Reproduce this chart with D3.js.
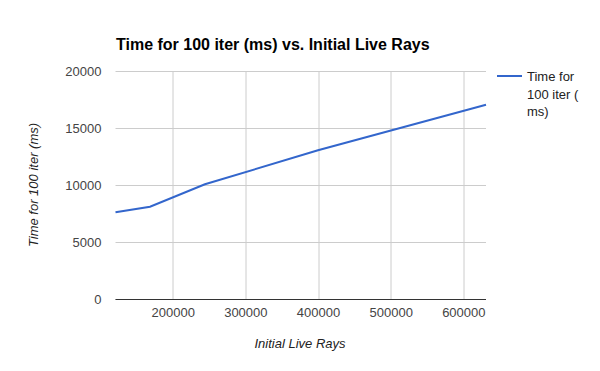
<!DOCTYPE html>
<html>
<head>
<meta charset="utf-8">
<script src="https://cdn.jsdelivr.net/npm/d3@7"></script>
<style>
  body { margin: 0; background: #fff; }
  text { font-family: "Liberation Sans", Arial, sans-serif; }
</style>
</head>
<body>
<div class="graph"></div>
<script>
// data
let rays = [121300, 168800, 244400, 400000, 631200]
let times = [7600, 8100, 10060, 13050, 17040]
let xTicks = [200000, 300000, 400000, 500000, 600000]
let yTicks = [0, 5000, 10000, 15000, 20000]
let seriesName = ['Time for', '100 iter (', 'ms)']

let svgWidth = 600
let svgHeight = 371
let fontFam = '"Liberation Sans", Arial, sans-serif'

let margin = {
    left: 115.5,
    right: 114,
    top: 71,
    bottom: 72
}

let height = svgHeight - margin.top - margin.bottom
let width = svgWidth - margin.left - margin.right

let svg = d3.select('.graph')
    .append('svg')
    .attr('width', svgWidth)
    .attr('height', svgHeight)

let g = svg.append('g')
    .attr('transform', 'translate(' + margin.left + ',' + margin.top + ')')

let points = rays.map((r, i) => ({ rays: r, time: times[i] }))

let xScale = d3.scaleLinear()
    .domain(d3.extent(rays))
    .range([0, width])
let yScale = d3.scaleLinear()
    .domain([0, 20000])
    .range([height, 0])

// gridlines
g.selectAll('.hgrid')
    .data(yTicks)
    .enter().append('line')
    .attr('x1', 0).attr('x2', width)
    .attr('y1', d => Math.round(yScale(d)) + 0.5)
    .attr('y2', d => Math.round(yScale(d)) + 0.5)
    .attr('stroke', '#cccccc')

g.selectAll('.vgrid')
    .data(xTicks)
    .enter().append('line')
    .attr('y1', 0).attr('y2', height)
    .attr('x1', d => Math.round(xScale(d)) + 0.5)
    .attr('x2', d => Math.round(xScale(d)) + 0.5)
    .attr('stroke', '#cccccc')

// baseline
g.append('line')
    .attr('x1', 0).attr('x2', width)
    .attr('y1', Math.round(yScale(0)) + 0.5)
    .attr('y2', Math.round(yScale(0)) + 0.5)
    .attr('stroke', '#333333')

// axis labels
let yAxis = d3.axisLeft(yScale)
    .tickValues(yTicks)
    .tickSize(0)
    .tickPadding(14)
    .tickFormat(d3.format('d'))
let xAxis = d3.axisBottom(xScale)
    .tickValues(xTicks)
    .tickSize(0)
    .tickPadding(9)
    .tickFormat(d3.format('d'))

g.append('g').call(yAxis)
    .call(a => a.select('.domain').remove())
    .selectAll('text')
    .attr('font-size', 13)
    .attr('font-family', fontFam)
    .attr('fill', '#444444')

g.append('g')
    .attr('transform', `translate(0,${height})`)
    .call(xAxis)
    .call(a => a.select('.domain').remove())
    .selectAll('text')
    .attr('font-size', 13)
    .attr('font-family', fontFam)
    .attr('fill', '#444444')

// the line
let valueLine = d3.line()
    .x(d => xScale(d.rays))
    .y(d => yScale(d.time))

g.append('path')
    .attr('d', valueLine(points))
    .attr('fill', 'none')
    .attr('stroke', '#3366cc')
    .attr('stroke-width', 2)

// title
svg.append('text')
    .attr('x', 116)
    .attr('y', 50)
    .attr('font-size', 16)
    .attr('font-weight', 'bold')
    .attr('fill', '#000')
    .text('Time for 100 iter (ms) vs. Initial Live Rays')

// axis titles
svg.append('text')
    .attr('x', 300)
    .attr('y', 348)
    .attr('text-anchor', 'middle')
    .attr('font-size', 13)
    .attr('font-style', 'italic')
    .attr('fill', '#222')
    .text('Initial Live Rays')

svg.append('text')
    .attr('transform', 'translate(38,' + (margin.top + height / 2) + ') rotate(-90)')
    .attr('text-anchor', 'middle')
    .attr('font-size', 13)
    .attr('font-style', 'italic')
    .attr('fill', '#222')
    .text('Time for 100 iter (ms)')

// legend
let legend = svg.append('g')
    .attr('transform', 'translate(497,76)')
legend.append('line')
    .attr('x1', 0).attr('x2', 25)
    .attr('y1', 0).attr('y2', 0)
    .attr('stroke', '#3366cc')
    .attr('stroke-width', 2)
legend.selectAll('.lab')
    .data(seriesName)
    .enter().append('text')
    .attr('x', 30)
    .attr('y', (d, i) => 5 + i * 17.5)
    .attr('font-size', 13)
    .attr('fill', '#222')
    .text(d => d)
</script>
</body>
</html>
